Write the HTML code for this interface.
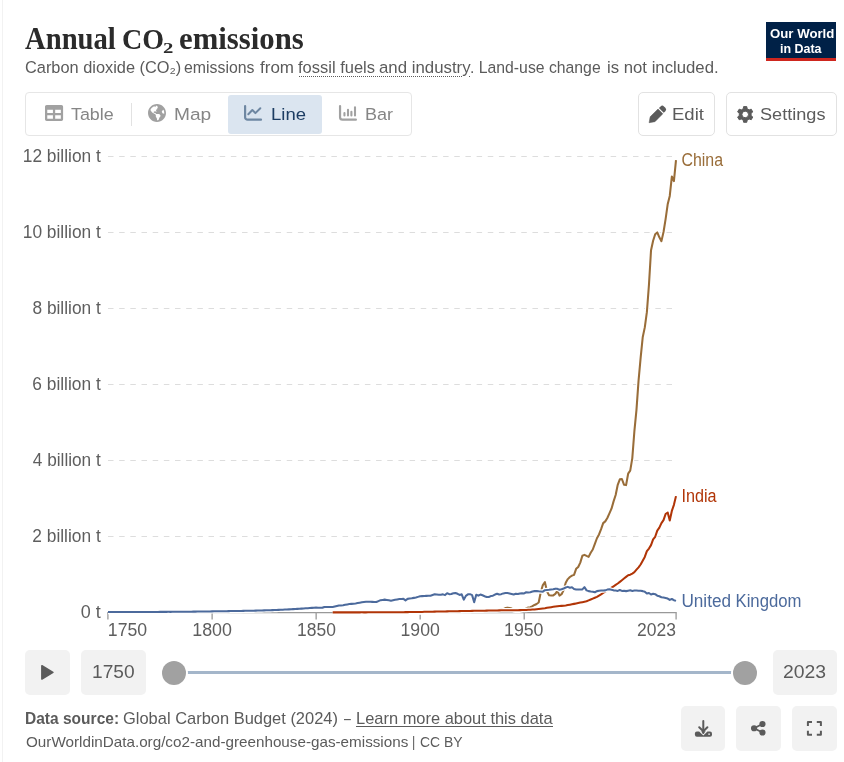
<!DOCTYPE html>
<html lang="en"><head><meta charset="utf-8"><title>Annual CO₂ emissions</title>
<style>
html,body{margin:0;padding:0;background:#fff;}
body{width:844px;height:762px;overflow:hidden;position:relative;font-family:"Liberation Sans",sans-serif;}
.grapher{position:absolute;left:2px;top:0;width:842px;height:762px;border-left:1px solid #f2f2f2;box-sizing:border-box;}
.abs{position:absolute;}
.t{position:absolute;white-space:nowrap;line-height:1;transform-origin:0 0;margin:0;padding:0;font-weight:400;text-decoration:none;}
.logo{position:absolute;left:766px;top:22px;width:70px;height:36px;background:#002147;border-bottom:3px solid #ce261e;}
.tabs{position:absolute;left:25px;top:92px;width:387px;height:44px;box-sizing:border-box;border:1px solid #e6e6e6;border-radius:4px;}
.tab-active{position:absolute;left:228px;top:95px;width:94px;height:39px;background:#dbe5f0;border-radius:3px;}
.divider{position:absolute;left:131px;top:103px;width:1px;height:23px;background:#e2e2e2;}
.btn{position:absolute;box-sizing:border-box;border:1px solid #e2e2e2;border-radius:5px;background:#fff;}
.gbtn{position:absolute;background:#f2f2f2;border-radius:5px;}
svg{position:absolute;left:0;top:0;overflow:visible;}
svg text{font-family:"Liberation Sans",sans-serif;}
.dotted{position:absolute;height:0;border-bottom:1px dotted #5b5b5b;}
.uline{position:absolute;height:1px;background:#5b5b5b;}
</style></head>
<body>
<div class="grapher"></div>
<header>
<h1 style="margin:0"><span class="t" style="left:24.97px;top:24px;font-size:30.5px;font-family:'Liberation Serif', serif;font-weight:700;color:#2b2b2b;transform:scaleX(0.9398);">Annual</span> <span class="t" style="left:121.87px;top:25px;font-size:29px;font-family:'Liberation Serif', serif;font-weight:700;color:#2b2b2b;transform:scaleX(0.9669);">CO</span><sub class="t" style="left:162.6px;top:40.6px;font-size:14.3px;font-family:'Liberation Serif', serif;font-weight:700;color:#2b2b2b;transform:scaleX(1.4468);">2</sub> <span class="t" style="left:178.99px;top:24px;font-size:30.5px;font-family:'Liberation Serif', serif;font-weight:700;color:#2b2b2b;transform:scaleX(1.0082);">emissions</span></h1>
<p class="subtitle" style="margin:0"><span class="t" style="left:24.86px;top:58.6px;font-size:17.1px;color:#5b5b5b;transform:scaleX(0.9567);">Carbon dioxide (CO₂)</span> <span class="t" style="left:183.8px;top:58.6px;font-size:17.1px;color:#5b5b5b;transform:scaleX(0.9273);">emissions</span> <span class="t" style="left:260.15px;top:58.6px;font-size:17.1px;color:#5b5b5b;transform:scaleX(0.9954);">from</span> <span class="t" style="left:298.46px;top:58.6px;font-size:17.1px;color:#5b5b5b;transform:scaleX(0.9648);">fossil fuels</span> <span class="t" style="left:379.26px;top:58.6px;font-size:17.1px;color:#5b5b5b;transform:scaleX(0.9832);">and industry</span><span class="t" style="left:470.42px;top:58.6px;font-size:17.1px;color:#5b5b5b;transform:scaleX(0.9227);">. Land-use change</span> <span class="t" style="left:607.1px;top:58.6px;font-size:17.1px;color:#5b5b5b;transform:scaleX(0.9787);">is not included.</span></p>
<div class="dotted" style="left:299px;top:76px;width:163px"></div><div class="dotted" style="left:469px;top:76px;width:1px"></div>
<div class="logo"></div><span class="t" style="left:769.51px;top:27.4px;font-size:13.4px;font-weight:700;color:#ffffff;transform:scaleX(0.9863);">Our World</span> <span class="t" style="left:780.19px;top:41.65px;font-size:13.4px;font-weight:700;color:#ffffff;transform:scaleX(0.9299);">in Data</span>
</header>
<nav>
<div class="tabs"></div><div class="divider"></div><div class="tab-active"></div>
<span class="t" style="left:71.41px;top:105.5px;font-size:17.4px;color:#858585;transform:scaleX(1.0272);">Table</span> <span class="t" style="left:173.79px;top:105.5px;font-size:17.4px;color:#858585;transform:scaleX(1.0992);">Map</span> <span class="t" style="left:270.54px;top:105.5px;font-size:17.4px;color:#1d3d63;transform:scaleX(1.0634);">Line</span> <span class="t" style="left:364.77px;top:105.5px;font-size:17.4px;color:#858585;transform:scaleX(1.0365);">Bar</span>
<div class="btn" style="left:638px;top:92px;width:77px;height:44px"></div><div class="btn" style="left:726px;top:92px;width:111px;height:44px"></div>
<span class="t" style="left:672.03px;top:105.5px;font-size:17.4px;color:#5b5b5b;transform:scaleX(1.0667);">Edit</span> <span class="t" style="left:760.32px;top:105.5px;font-size:17.4px;color:#5b5b5b;transform:scaleX(1.0423);">Settings</span>
</nav>
<div class="gbtn" style="left:25px;top:650px;width:45px;height:45px"></div><div class="gbtn" style="left:81px;top:650px;width:65px;height:45px"></div><div class="gbtn" style="left:773px;top:650px;width:64px;height:45px"></div>
<span class="t" style="left:92.44px;top:662.8px;font-size:18px;color:#5b5b5b;transform:scaleX(1.0632);">1750</span> <span class="t" style="left:783.36px;top:662.8px;font-size:18px;color:#5b5b5b;transform:scaleX(1.0762);">2023</span>
<div class="gbtn" style="left:681px;top:706px;width:44px;height:45px"></div><div class="gbtn" style="left:736px;top:706px;width:45px;height:45px"></div><div class="gbtn" style="left:792px;top:706px;width:45px;height:45px"></div>
<footer><b class="t" style="left:25.32px;top:709.9px;font-size:16.2px;font-weight:700;color:#5b5b5b;transform:scaleX(0.9594);">Data source:</b> <span class="t" style="left:123.34px;top:709.9px;font-size:16.2px;color:#5b5b5b;transform:scaleX(1.0164);">Global Carbon Budget (2024)</span> <span class="t" style="left:343.6px;top:709.9px;font-size:16.2px;color:#5b5b5b;transform:scaleX(0.7556);">–</span> <a class="t" style="left:355.6px;top:709.9px;font-size:16.2px;color:#5b5b5b;transform:scaleX(1.0160);">Learn more about this data</a> <span class="t" style="left:25.54px;top:734.7px;font-size:14.4px;color:#5b5b5b;transform:scaleX(1.0582);">OurWorldinData.org/co2-and-greenhouse-gas-emissions</span> <span class="t" style="left:412.1px;top:734.7px;font-size:14.4px;color:#5b5b5b;transform:scaleX(0.8800);">|</span> <span class="t" style="left:420.27px;top:734.7px;font-size:14.4px;color:#5b5b5b;transform:scaleX(0.9703);">CC BY</span></footer>
<div class="uline" style="left:356px;top:726px;width:197px"></div>
<svg width="844" height="762" viewBox="0 0 844 762">
<g stroke="#dddddd" stroke-width="1" stroke-dasharray="5.5 5.67" fill="none"><path d="M108,156.5 H676"/><path d="M108,232.5 H676"/><path d="M108,308.5 H676"/><path d="M108,384.5 H676"/><path d="M108,460.5 H676"/><path d="M108,536.5 H676"/></g>
<g stroke="#a0a0a0" stroke-width="1.4" fill="none"><path stroke-width="1.1" stroke="#999" d="M107.3,612.6 H676.7"/><path d="M107.9,612.6 V619.5"/><path d="M212.13,612.6 V619.5"/><path d="M316.16,612.6 V619.5"/><path d="M420.19,612.6 V619.5"/><path d="M524.22,612.6 V619.5"/><path d="M676.1,612.6 V619.5"/></g>
<g><text x="22.75" y="161.8" font-size="17.6" fill="#5e5e5e" textLength="78.05" lengthAdjust="spacingAndGlyphs">12 billion t</text> <text x="22.75" y="237.8" font-size="17.6" fill="#5e5e5e" textLength="78.05" lengthAdjust="spacingAndGlyphs">10 billion t</text> <text x="32.46" y="313.8" font-size="17.6" fill="#5e5e5e" textLength="68.3" lengthAdjust="spacingAndGlyphs">8 billion t</text> <text x="32.34" y="389.8" font-size="17.6" fill="#5e5e5e" textLength="68.42" lengthAdjust="spacingAndGlyphs">6 billion t</text> <text x="32.83" y="465.8" font-size="17.6" fill="#5e5e5e" textLength="67.93" lengthAdjust="spacingAndGlyphs">4 billion t</text> <text x="32.34" y="541.8" font-size="17.6" fill="#5e5e5e" textLength="68.42" lengthAdjust="spacingAndGlyphs">2 billion t</text> <text x="80.76" y="617.8" font-size="17.6" fill="#5e5e5e" textLength="20" lengthAdjust="spacingAndGlyphs">0 t</text></g>
<g><text x="107.85" y="635.8" font-size="18" fill="#5e5e5e" textLength="39.31" lengthAdjust="spacingAndGlyphs">1750</text> <text x="192.24" y="635.8" font-size="18" fill="#5e5e5e" textLength="39.73" lengthAdjust="spacingAndGlyphs">1800</text> <text x="297.07" y="635.8" font-size="18" fill="#5e5e5e" textLength="38.78" lengthAdjust="spacingAndGlyphs">1850</text> <text x="400.55" y="635.8" font-size="18" fill="#5e5e5e" textLength="39.31" lengthAdjust="spacingAndGlyphs">1900</text> <text x="504.05" y="635.8" font-size="18" fill="#5e5e5e" textLength="39.41" lengthAdjust="spacingAndGlyphs">1950</text> <text x="636.95" y="635.8" font-size="18" fill="#5e5e5e" textLength="38.92" lengthAdjust="spacingAndGlyphs">2023</text></g>
<g fill="none" stroke-linejoin="round" stroke-linecap="butt">
<path stroke="#fff" stroke-width="4.449999999999999" d="M418.01,612.4 L420.09,612.4 L422.17,612.4 L424.25,612.4 L426.33,612.33 L428.41,612.27 L430.49,612.21 L432.57,612.1 L434.65,611.98 L436.73,611.87 L438.81,611.75 L440.89,611.64 L442.97,611.58 L445.05,611.52 L447.14,611.46 L449.22,611.4 L451.3,611.34 L453.38,611.31 L455.46,611.28 L457.54,611.24 L459.62,611.21 L461.7,611.18 L463.78,611.12 L465.86,611.06 L467.94,611 L470.02,610.94 L472.1,610.88 L474.18,610.79 L476.26,610.7 L478.34,610.61 L480.42,610.52 L482.51,610.42 L484.59,610.33 L486.67,610.23 L488.75,610.13 L490.83,610.03 L492.91,609.93 L494.99,609.99 L497.07,610.06 L499.15,610.12 L501.23,609.64 L503.31,609.17 L505.39,608.03 L507.47,607.65 L509.55,608.03 L511.63,608.6 L513.71,610.31 L515.79,610.88 L517.88,610.5 L519.96,610.69 L522.04,610.12 L524.12,609.41 L526.2,608.56 L528.28,607.46 L530.36,607.23 L532.44,606.24 L534.52,604.99 L536.6,604 L538.68,602.52 L540.76,592.26 L542.84,585.04 L544.92,582.19 L547,591.42 L549.08,595.3 L551.16,595.41 L553.25,595.41 L555.33,593.93 L557.41,590.93 L559.49,595.57 L561.57,594.2 L563.65,590.09 L565.73,582.76 L567.81,579.11 L569.89,577.02 L571.97,575.62 L574.05,574.86 L576.13,568.85 L578.21,566.95 L580.29,562.62 L582.37,555.7 L584.45,554.83 L586.53,555.89 L588.62,556.84 L590.7,552.74 L592.78,549.51 L594.86,543.92 L596.94,538.26 L599.02,534.42 L601.1,529.14 L603.18,523.14 L605.26,521.35 L607.34,517.97 L609.42,513.37 L611.5,508.66 L613.58,501.4 L615.66,495.02 L617.74,484.8 L619.82,479.29 L621.9,479.02 L623.99,484.72 L626.07,485.1 L628.15,473.7 L630.23,470.66 L632.31,458.12 L634.39,431.14 L636.47,409.86 L638.55,380.6 L640.63,357.8 L642.71,337.28 L644.79,327.4 L646.87,312.2 L648.95,284.84 L651.03,250.26 L653.11,240.76 L655.19,234.3 L657.27,232.4 L659.36,237.34 L661.44,241.14 L663.52,232.02 L665.6,219.1 L667.68,204.28 L669.76,195.92 L671.84,176.54 L673.92,181.1 L676,160.2"/>
<path stroke="#996D39" stroke-width="2.05" d="M418.01,612.4 L420.09,612.4 L422.17,612.4 L424.25,612.4 L426.33,612.33 L428.41,612.27 L430.49,612.21 L432.57,612.1 L434.65,611.98 L436.73,611.87 L438.81,611.75 L440.89,611.64 L442.97,611.58 L445.05,611.52 L447.14,611.46 L449.22,611.4 L451.3,611.34 L453.38,611.31 L455.46,611.28 L457.54,611.24 L459.62,611.21 L461.7,611.18 L463.78,611.12 L465.86,611.06 L467.94,611 L470.02,610.94 L472.1,610.88 L474.18,610.79 L476.26,610.7 L478.34,610.61 L480.42,610.52 L482.51,610.42 L484.59,610.33 L486.67,610.23 L488.75,610.13 L490.83,610.03 L492.91,609.93 L494.99,609.99 L497.07,610.06 L499.15,610.12 L501.23,609.64 L503.31,609.17 L505.39,608.03 L507.47,607.65 L509.55,608.03 L511.63,608.6 L513.71,610.31 L515.79,610.88 L517.88,610.5 L519.96,610.69 L522.04,610.12 L524.12,609.41 L526.2,608.56 L528.28,607.46 L530.36,607.23 L532.44,606.24 L534.52,604.99 L536.6,604 L538.68,602.52 L540.76,592.26 L542.84,585.04 L544.92,582.19 L547,591.42 L549.08,595.3 L551.16,595.41 L553.25,595.41 L555.33,593.93 L557.41,590.93 L559.49,595.57 L561.57,594.2 L563.65,590.09 L565.73,582.76 L567.81,579.11 L569.89,577.02 L571.97,575.62 L574.05,574.86 L576.13,568.85 L578.21,566.95 L580.29,562.62 L582.37,555.7 L584.45,554.83 L586.53,555.89 L588.62,556.84 L590.7,552.74 L592.78,549.51 L594.86,543.92 L596.94,538.26 L599.02,534.42 L601.1,529.14 L603.18,523.14 L605.26,521.35 L607.34,517.97 L609.42,513.37 L611.5,508.66 L613.58,501.4 L615.66,495.02 L617.74,484.8 L619.82,479.29 L621.9,479.02 L623.99,484.72 L626.07,485.1 L628.15,473.7 L630.23,470.66 L632.31,458.12 L634.39,431.14 L636.47,409.86 L638.55,380.6 L640.63,357.8 L642.71,337.28 L644.79,327.4 L646.87,312.2 L648.95,284.84 L651.03,250.26 L653.11,240.76 L655.19,234.3 L657.27,232.4 L659.36,237.34 L661.44,241.14 L663.52,232.02 L665.6,219.1 L667.68,204.28 L669.76,195.92 L671.84,176.54 L673.92,181.1 L676,160.2"/>
<path stroke="#fff" stroke-width="4.449999999999999" d="M332.7,612.38 L334.78,612.38 L336.86,612.38 L338.95,612.38 L341.03,612.38 L343.11,612.38 L345.19,612.37 L347.27,612.37 L349.35,612.37 L351.43,612.37 L353.51,612.37 L355.59,612.36 L357.67,612.36 L359.75,612.36 L361.83,612.35 L363.91,612.35 L365.99,612.35 L368.07,612.34 L370.15,612.34 L372.23,612.34 L374.32,612.33 L376.4,612.33 L378.48,612.32 L380.56,612.31 L382.64,612.3 L384.72,612.3 L386.8,612.29 L388.88,612.28 L390.96,612.27 L393.04,612.26 L395.12,612.25 L397.2,612.24 L399.28,612.23 L401.36,612.2 L403.44,612.17 L405.52,612.14 L407.6,612.12 L409.68,612.09 L411.77,612.06 L413.85,612.03 L415.93,612 L418.01,611.97 L420.09,611.94 L422.17,611.9 L424.25,611.85 L426.33,611.81 L428.41,611.76 L430.49,611.72 L432.57,611.67 L434.65,611.62 L436.73,611.58 L438.81,611.53 L440.89,611.49 L442.97,611.45 L445.05,611.4 L447.14,611.36 L449.22,611.32 L451.3,611.28 L453.38,611.24 L455.46,611.2 L457.54,611.15 L459.62,611.11 L461.7,611.07 L463.78,611.03 L465.86,610.99 L467.94,610.96 L470.02,610.92 L472.1,610.88 L474.18,610.84 L476.26,610.8 L478.34,610.77 L480.42,610.73 L482.51,610.69 L484.59,610.65 L486.67,610.61 L488.75,610.58 L490.83,610.54 L492.91,610.5 L494.99,610.46 L497.07,610.42 L499.15,610.39 L501.23,610.35 L503.31,610.31 L505.39,610.29 L507.47,610.26 L509.55,610.24 L511.63,610.22 L513.71,610.2 L515.79,610.17 L517.88,610.15 L519.96,610.13 L522.04,610.1 L524.12,610.08 L526.2,609.95 L528.28,609.82 L530.36,609.69 L532.44,609.57 L534.52,609.44 L536.6,609.19 L538.68,608.93 L540.76,608.68 L542.84,608.43 L544.92,608.18 L547,607.85 L549.08,607.51 L551.16,607.18 L553.25,606.84 L555.33,606.51 L557.41,606.3 L559.49,606.1 L561.57,605.89 L563.65,605.69 L565.73,605.48 L567.81,605.08 L569.89,604.68 L571.97,604.28 L574.05,603.87 L576.13,603.47 L578.21,603.04 L580.29,602.6 L582.37,602.17 L584.45,601.74 L586.53,601.3 L588.62,600.41 L590.7,599.51 L592.78,598.61 L594.86,597.72 L596.94,596.82 L599.02,595.54 L601.1,594.27 L603.18,592.99 L605.26,591.71 L607.34,590.44 L609.42,589.05 L611.5,587.67 L613.58,586.29 L615.66,584.9 L617.74,583.52 L619.82,581.86 L621.9,580.21 L623.99,578.55 L626.07,576.89 L628.15,575.24 L630.23,574.7 L632.31,573.56 L634.39,572.16 L636.47,569.65 L638.55,567.37 L640.63,564.52 L642.71,560.72 L644.79,556.92 L646.87,551.22 L648.95,548.56 L651.03,545.14 L653.11,539.44 L655.19,536.78 L657.27,530.7 L659.36,527.66 L661.44,523.1 L663.52,520.06 L665.6,513.98 L667.68,512.46 L669.76,520.44 L671.84,510.94 L673.92,504.86 L676,496.12"/>
<path stroke="#B13507" stroke-width="2.05" d="M332.7,612.38 L334.78,612.38 L336.86,612.38 L338.95,612.38 L341.03,612.38 L343.11,612.38 L345.19,612.37 L347.27,612.37 L349.35,612.37 L351.43,612.37 L353.51,612.37 L355.59,612.36 L357.67,612.36 L359.75,612.36 L361.83,612.35 L363.91,612.35 L365.99,612.35 L368.07,612.34 L370.15,612.34 L372.23,612.34 L374.32,612.33 L376.4,612.33 L378.48,612.32 L380.56,612.31 L382.64,612.3 L384.72,612.3 L386.8,612.29 L388.88,612.28 L390.96,612.27 L393.04,612.26 L395.12,612.25 L397.2,612.24 L399.28,612.23 L401.36,612.2 L403.44,612.17 L405.52,612.14 L407.6,612.12 L409.68,612.09 L411.77,612.06 L413.85,612.03 L415.93,612 L418.01,611.97 L420.09,611.94 L422.17,611.9 L424.25,611.85 L426.33,611.81 L428.41,611.76 L430.49,611.72 L432.57,611.67 L434.65,611.62 L436.73,611.58 L438.81,611.53 L440.89,611.49 L442.97,611.45 L445.05,611.4 L447.14,611.36 L449.22,611.32 L451.3,611.28 L453.38,611.24 L455.46,611.2 L457.54,611.15 L459.62,611.11 L461.7,611.07 L463.78,611.03 L465.86,610.99 L467.94,610.96 L470.02,610.92 L472.1,610.88 L474.18,610.84 L476.26,610.8 L478.34,610.77 L480.42,610.73 L482.51,610.69 L484.59,610.65 L486.67,610.61 L488.75,610.58 L490.83,610.54 L492.91,610.5 L494.99,610.46 L497.07,610.42 L499.15,610.39 L501.23,610.35 L503.31,610.31 L505.39,610.29 L507.47,610.26 L509.55,610.24 L511.63,610.22 L513.71,610.2 L515.79,610.17 L517.88,610.15 L519.96,610.13 L522.04,610.1 L524.12,610.08 L526.2,609.95 L528.28,609.82 L530.36,609.69 L532.44,609.57 L534.52,609.44 L536.6,609.19 L538.68,608.93 L540.76,608.68 L542.84,608.43 L544.92,608.18 L547,607.85 L549.08,607.51 L551.16,607.18 L553.25,606.84 L555.33,606.51 L557.41,606.3 L559.49,606.1 L561.57,605.89 L563.65,605.69 L565.73,605.48 L567.81,605.08 L569.89,604.68 L571.97,604.28 L574.05,603.87 L576.13,603.47 L578.21,603.04 L580.29,602.6 L582.37,602.17 L584.45,601.74 L586.53,601.3 L588.62,600.41 L590.7,599.51 L592.78,598.61 L594.86,597.72 L596.94,596.82 L599.02,595.54 L601.1,594.27 L603.18,592.99 L605.26,591.71 L607.34,590.44 L609.42,589.05 L611.5,587.67 L613.58,586.29 L615.66,584.9 L617.74,583.52 L619.82,581.86 L621.9,580.21 L623.99,578.55 L626.07,576.89 L628.15,575.24 L630.23,574.7 L632.31,573.56 L634.39,572.16 L636.47,569.65 L638.55,567.37 L640.63,564.52 L642.71,560.72 L644.79,556.92 L646.87,551.22 L648.95,548.56 L651.03,545.14 L653.11,539.44 L655.19,536.78 L657.27,530.7 L659.36,527.66 L661.44,523.1 L663.52,520.06 L665.6,513.98 L667.68,512.46 L669.76,520.44 L671.84,510.94 L673.92,504.86 L676,496.12"/>
<path stroke="#fff" stroke-width="4.449999999999999" d="M108,612.04 L110.08,612.04 L112.16,612.04 L114.24,612.03 L116.32,612.03 L118.4,612.02 L120.48,612.02 L122.56,612.01 L124.64,612.01 L126.73,612 L128.81,612 L130.89,611.99 L132.97,611.98 L135.05,611.98 L137.13,611.97 L139.21,611.96 L141.29,611.96 L143.37,611.95 L145.45,611.94 L147.53,611.94 L149.61,611.93 L151.69,611.92 L153.77,611.91 L155.85,611.9 L157.93,611.9 L160.01,611.89 L162.1,611.88 L164.18,611.87 L166.26,611.86 L168.34,611.85 L170.42,611.85 L172.5,611.83 L174.58,611.81 L176.66,611.79 L178.74,611.77 L180.82,611.76 L182.9,611.74 L184.98,611.72 L187.06,611.7 L189.14,611.68 L191.22,611.67 L193.3,611.64 L195.38,611.61 L197.47,611.58 L199.55,611.55 L201.63,611.52 L203.71,611.49 L205.79,611.46 L207.87,611.44 L209.95,611.41 L212.03,611.38 L214.11,611.35 L216.19,611.32 L218.27,611.29 L220.35,611.25 L222.43,611.22 L224.51,611.19 L226.59,611.16 L228.67,611.13 L230.75,611.1 L232.84,611.07 L234.92,611.03 L237,610.99 L239.08,610.96 L241.16,610.92 L243.24,610.88 L245.32,610.84 L247.4,610.8 L249.48,610.77 L251.56,610.73 L253.64,610.69 L255.72,610.63 L257.8,610.57 L259.88,610.51 L261.96,610.45 L264.04,610.39 L266.12,610.33 L268.21,610.26 L270.29,610.2 L272.37,610.14 L274.45,610.08 L276.53,609.98 L278.61,609.88 L280.69,609.77 L282.77,609.67 L284.85,609.57 L286.93,609.46 L289.01,609.36 L291.09,609.24 L293.17,609.11 L295.25,608.99 L297.33,608.86 L299.41,608.74 L301.49,608.61 L303.58,608.49 L305.66,608.33 L307.74,608.18 L309.82,608.03 L311.9,607.88 L313.98,607.73 L316.06,607.57 L318.14,607.65 L320.22,607.73 L322.3,607.8 L324.38,606.93 L326.46,607 L328.54,607.08 L330.62,607.08 L332.7,607.08 L334.78,606.57 L336.86,606.07 L338.95,605.56 L341.03,605.41 L343.11,605.26 L345.19,604.86 L347.27,604.47 L349.35,604.08 L351.43,603.86 L353.51,603.65 L355.59,603.43 L357.67,603.05 L359.75,602.67 L361.83,602.29 L363.91,602.03 L365.99,601.76 L368.07,601.8 L370.15,601.84 L372.23,601.89 L374.32,601.94 L376.4,601.99 L378.48,601.08 L380.56,600.16 L382.64,599.9 L384.72,599.63 L386.8,599.97 L388.88,600.32 L390.96,600.7 L393.04,600.28 L395.12,599.86 L397.2,599.44 L399.28,599.02 L401.36,598.95 L403.44,598.87 L405.52,600.39 L407.6,598.87 L409.68,598.57 L411.77,598.26 L413.85,597.88 L415.93,597.5 L418.01,596.88 L420.09,596.25 L422.17,596.12 L424.25,596 L426.33,595.87 L428.41,595.77 L430.49,595.68 L432.57,595.01 L434.65,594.35 L436.73,594.54 L438.81,594.73 L440.89,594.73 L442.97,594.35 L445.05,595.11 L447.14,593.21 L449.22,594.16 L451.3,593.97 L453.38,593.21 L455.46,593.02 L457.54,593.78 L459.62,594.92 L461.7,594.35 L463.78,599.67 L465.86,595.87 L467.94,594.35 L470.02,594.16 L472.1,595.11 L474.18,602.22 L476.26,594.73 L478.34,595.68 L480.42,594.54 L482.51,595.3 L484.59,596.25 L486.67,597.01 L488.75,597.01 L490.83,596.06 L492.91,595.68 L494.99,594.54 L497.07,593.78 L499.15,594.54 L501.23,594.16 L503.31,593.4 L505.39,593.02 L507.47,593.02 L509.55,593.4 L511.63,593.97 L513.71,594.54 L515.79,593.78 L517.88,593.97 L519.96,593.4 L522.04,593.21 L524.12,593.4 L526.2,592.26 L528.28,592.45 L530.36,592.26 L532.44,591.5 L534.52,591.12 L536.6,590.93 L538.68,591.31 L540.76,591.5 L542.84,591.69 L544.92,590.17 L547,589.98 L549.08,589.79 L551.16,589.41 L553.25,589.22 L555.33,588.65 L557.41,588.84 L559.49,589.79 L561.57,589.22 L563.65,588.46 L565.73,587.51 L567.81,586.86 L569.89,587.7 L571.97,587.32 L574.05,589.03 L576.13,589.41 L578.21,589.6 L580.29,589.41 L582.37,589.41 L584.45,587.17 L586.53,590.36 L588.62,591.12 L590.7,591.5 L592.78,591.69 L594.86,592.26 L596.94,591.12 L599.02,590.74 L601.1,590.55 L603.18,590.55 L605.26,590.36 L607.34,589.6 L609.42,589.22 L611.5,589.79 L613.58,590.36 L615.66,590.55 L617.74,590.93 L619.82,589.98 L621.9,590.93 L623.99,590.74 L626.07,591.12 L628.15,590.74 L630.23,590.36 L632.31,590.93 L634.39,590.55 L636.47,590.55 L638.55,590.74 L640.63,590.74 L642.71,591.12 L644.79,591.69 L646.87,593.59 L648.95,593.02 L651.03,594.54 L653.11,593.78 L655.19,594.16 L657.27,595.68 L659.36,596.25 L661.44,597.2 L663.52,597.58 L665.6,597.96 L667.68,598.53 L669.76,599.86 L671.84,599.02 L673.92,600.16 L676,600.85"/>
<path stroke="#4C6A9C" stroke-width="2.05" d="M108,612.04 L110.08,612.04 L112.16,612.04 L114.24,612.03 L116.32,612.03 L118.4,612.02 L120.48,612.02 L122.56,612.01 L124.64,612.01 L126.73,612 L128.81,612 L130.89,611.99 L132.97,611.98 L135.05,611.98 L137.13,611.97 L139.21,611.96 L141.29,611.96 L143.37,611.95 L145.45,611.94 L147.53,611.94 L149.61,611.93 L151.69,611.92 L153.77,611.91 L155.85,611.9 L157.93,611.9 L160.01,611.89 L162.1,611.88 L164.18,611.87 L166.26,611.86 L168.34,611.85 L170.42,611.85 L172.5,611.83 L174.58,611.81 L176.66,611.79 L178.74,611.77 L180.82,611.76 L182.9,611.74 L184.98,611.72 L187.06,611.7 L189.14,611.68 L191.22,611.67 L193.3,611.64 L195.38,611.61 L197.47,611.58 L199.55,611.55 L201.63,611.52 L203.71,611.49 L205.79,611.46 L207.87,611.44 L209.95,611.41 L212.03,611.38 L214.11,611.35 L216.19,611.32 L218.27,611.29 L220.35,611.25 L222.43,611.22 L224.51,611.19 L226.59,611.16 L228.67,611.13 L230.75,611.1 L232.84,611.07 L234.92,611.03 L237,610.99 L239.08,610.96 L241.16,610.92 L243.24,610.88 L245.32,610.84 L247.4,610.8 L249.48,610.77 L251.56,610.73 L253.64,610.69 L255.72,610.63 L257.8,610.57 L259.88,610.51 L261.96,610.45 L264.04,610.39 L266.12,610.33 L268.21,610.26 L270.29,610.2 L272.37,610.14 L274.45,610.08 L276.53,609.98 L278.61,609.88 L280.69,609.77 L282.77,609.67 L284.85,609.57 L286.93,609.46 L289.01,609.36 L291.09,609.24 L293.17,609.11 L295.25,608.99 L297.33,608.86 L299.41,608.74 L301.49,608.61 L303.58,608.49 L305.66,608.33 L307.74,608.18 L309.82,608.03 L311.9,607.88 L313.98,607.73 L316.06,607.57 L318.14,607.65 L320.22,607.73 L322.3,607.8 L324.38,606.93 L326.46,607 L328.54,607.08 L330.62,607.08 L332.7,607.08 L334.78,606.57 L336.86,606.07 L338.95,605.56 L341.03,605.41 L343.11,605.26 L345.19,604.86 L347.27,604.47 L349.35,604.08 L351.43,603.86 L353.51,603.65 L355.59,603.43 L357.67,603.05 L359.75,602.67 L361.83,602.29 L363.91,602.03 L365.99,601.76 L368.07,601.8 L370.15,601.84 L372.23,601.89 L374.32,601.94 L376.4,601.99 L378.48,601.08 L380.56,600.16 L382.64,599.9 L384.72,599.63 L386.8,599.97 L388.88,600.32 L390.96,600.7 L393.04,600.28 L395.12,599.86 L397.2,599.44 L399.28,599.02 L401.36,598.95 L403.44,598.87 L405.52,600.39 L407.6,598.87 L409.68,598.57 L411.77,598.26 L413.85,597.88 L415.93,597.5 L418.01,596.88 L420.09,596.25 L422.17,596.12 L424.25,596 L426.33,595.87 L428.41,595.77 L430.49,595.68 L432.57,595.01 L434.65,594.35 L436.73,594.54 L438.81,594.73 L440.89,594.73 L442.97,594.35 L445.05,595.11 L447.14,593.21 L449.22,594.16 L451.3,593.97 L453.38,593.21 L455.46,593.02 L457.54,593.78 L459.62,594.92 L461.7,594.35 L463.78,599.67 L465.86,595.87 L467.94,594.35 L470.02,594.16 L472.1,595.11 L474.18,602.22 L476.26,594.73 L478.34,595.68 L480.42,594.54 L482.51,595.3 L484.59,596.25 L486.67,597.01 L488.75,597.01 L490.83,596.06 L492.91,595.68 L494.99,594.54 L497.07,593.78 L499.15,594.54 L501.23,594.16 L503.31,593.4 L505.39,593.02 L507.47,593.02 L509.55,593.4 L511.63,593.97 L513.71,594.54 L515.79,593.78 L517.88,593.97 L519.96,593.4 L522.04,593.21 L524.12,593.4 L526.2,592.26 L528.28,592.45 L530.36,592.26 L532.44,591.5 L534.52,591.12 L536.6,590.93 L538.68,591.31 L540.76,591.5 L542.84,591.69 L544.92,590.17 L547,589.98 L549.08,589.79 L551.16,589.41 L553.25,589.22 L555.33,588.65 L557.41,588.84 L559.49,589.79 L561.57,589.22 L563.65,588.46 L565.73,587.51 L567.81,586.86 L569.89,587.7 L571.97,587.32 L574.05,589.03 L576.13,589.41 L578.21,589.6 L580.29,589.41 L582.37,589.41 L584.45,587.17 L586.53,590.36 L588.62,591.12 L590.7,591.5 L592.78,591.69 L594.86,592.26 L596.94,591.12 L599.02,590.74 L601.1,590.55 L603.18,590.55 L605.26,590.36 L607.34,589.6 L609.42,589.22 L611.5,589.79 L613.58,590.36 L615.66,590.55 L617.74,590.93 L619.82,589.98 L621.9,590.93 L623.99,590.74 L626.07,591.12 L628.15,590.74 L630.23,590.36 L632.31,590.93 L634.39,590.55 L636.47,590.55 L638.55,590.74 L640.63,590.74 L642.71,591.12 L644.79,591.69 L646.87,593.59 L648.95,593.02 L651.03,594.54 L653.11,593.78 L655.19,594.16 L657.27,595.68 L659.36,596.25 L661.44,597.2 L663.52,597.58 L665.6,597.96 L667.68,598.53 L669.76,599.86 L671.84,599.02 L673.92,600.16 L676,600.85"/>
</g>
<g><text x="681.45" y="165.7" font-size="17.5" fill="#996D39" textLength="41.57" lengthAdjust="spacingAndGlyphs">China</text> <text x="681.5" y="501.7" font-size="17.5" fill="#B13507" textLength="35.11" lengthAdjust="spacingAndGlyphs">India</text> <text x="681.4" y="606.7" font-size="17.5" fill="#4C6A9C" textLength="49.67" lengthAdjust="spacingAndGlyphs">United</text> <text x="735.49" y="606.7" font-size="17.5" fill="#4C6A9C" textLength="65.95" lengthAdjust="spacingAndGlyphs">Kingdom</text></g>
<path d="M186,672.5 H733" stroke="#a4b6ca" stroke-width="3" fill="none"/><circle cx="174" cy="673" r="14" fill="#fff"/><circle cx="174" cy="673" r="12" fill="#a1a1a1"/><circle cx="745" cy="673" r="14" fill="#fff"/><circle cx="745" cy="673" r="12" fill="#a1a1a1"/>
<path fill="#a1a1a1" transform="translate(45,103.97) scale(0.03535)" d="M464 32H48C21.49 32 0 53.49 0 80v352c0 26.51 21.49 48 48 48h416c26.51 0 48-21.49 48-48V80c0-26.51-21.49-48-48-48zM224 416H64v-96h160v96zm0-160H64v-96h160v96zm224 160H288v-96h160v96zm0-160H288v-96h160v96z"/>
<path fill="#a1a1a1" transform="translate(148,103.61) scale(0.03629)" d="M248 8C111.03 8 0 119.03 0 256s111.03 248 248 248 248-111.03 248-248S384.97 8 248 8zm82.29 357.6c-3.9 3.88-7.99 7.95-11.31 11.28-2.99 3-5.1 6.7-6.17 10.71-1.51 5.66-2.73 11.38-4.77 16.87l-17.39 46.85c-13.76 3-28 4.69-42.65 4.69v-27.38c1.69-12.62-7.64-36.26-22.63-51.25-6-6-9.37-14.14-9.37-22.63v-32.01c0-11.64-6.27-22.34-16.46-27.97-14.37-7.95-34.81-19.06-48.81-26.11-11.48-5.78-22.1-13.14-31.65-21.75l-.8-.72a114.792 114.792 0 0 1-18.06-20.74c-9.38-13.77-24.66-36.42-34.59-51.14 20.47-45.5 57.36-82.04 103.2-101.89l24.01 12.01C203.48 89.74 216 82.01 216 70.11v-11.3c7.99-1.29 16.12-2.11 24.39-2.42l28.3 28.3c6.25 6.25 6.25 16.38 0 22.63L264 112l-10.34 10.34c-3.12 3.12-3.12 8.19 0 11.31l4.69 4.69c3.12 3.12 3.12 8.19 0 11.31l-8 8a8.008 8.008 0 0 1-5.66 2.34h-8.99c-2.08 0-4.08.81-5.58 2.27l-9.92 9.65a8.008 8.008 0 0 0-1.58 9.31l15.59 31.19c2.66 5.32-1.21 11.58-7.15 11.58h-5.64c-1.93 0-3.79-.7-5.24-1.96l-9.28-8.06a16.017 16.017 0 0 0-15.55-3.1l-31.17 10.39a11.95 11.95 0 0 0-8.17 11.34c0 4.53 2.56 8.66 6.61 10.69l11.08 5.54c9.41 4.71 19.79 7.16 30.31 7.16s22.59 27.29 32 32h66.75c8.49 0 16.62 3.37 22.63 9.37l13.69 13.69a30.503 30.503 0 0 1 8.93 21.57 46.536 46.536 0 0 1-13.72 32.98zM417 274.25c-5.79-1.45-10.84-5-14.15-9.97l-17.98-26.97a23.97 23.97 0 0 1 0-26.62l19.59-29.38c2.32-3.47 5.5-6.29 9.24-8.15l12.98-6.49C440.2 193.59 448 223.87 448 256c0 8.67-.74 17.16-1.82 25.54L417 274.25z"/>
<g fill="none" stroke="#6e87a2" stroke-linecap="round" stroke-linejoin="round"><path stroke-width="2.2" d="M245.1,106 V117.2 a2.5,2.5 0 0 0 2.5,2.5 H261"/><path stroke-width="2" d="M248.3,114.2 L252.35,110 L255.4,113.1 L260.3,108.2"/></g>
<g fill="none" stroke="#a1a1a1" stroke-linecap="round" stroke-linejoin="round"><path stroke-width="2.2" d="M340.05,106 V117.2 a2.5,2.5 0 0 0 2.5,2.5 H355.9"/><path stroke-width="2.1" d="M344.45,113 V115.4 M348,109.7 V115.4 M351.4,111.8 V115.4 M355,107.3 V115.4"/></g>
<g transform="translate(648.9,122.9) rotate(-45)" fill="#5b5b5b"><path d="M0.3,0 L5.2,-3.4 H16.3 V3.4 H5.2 Z" stroke="#5b5b5b" stroke-width="0.5" stroke-linejoin="round"/><path d="M17.6,-3.4 H19.9 a2.4,2.4 0 0 1 2.4,2.4 V1 a2.4,2.4 0 0 1 -2.4,2.4 H17.6 Z"/></g>
<path fill="#5b5b5b" fill-rule="evenodd" stroke="#5b5b5b" stroke-width="1" stroke-linejoin="round" d="M747.14,108.77 L746.79,106.61 L743.61,106.61 L743.26,108.77 L741.26,109.93 L739.2,109.15 L737.62,111.91 L739.31,113.3 L739.31,115.6 L737.62,116.99 L739.2,119.75 L741.26,118.97 L743.26,120.13 L743.61,122.29 L746.79,122.29 L747.14,120.13 L749.14,118.97 L751.2,119.75 L752.78,116.99 L751.09,115.6 L751.09,113.3 L752.78,111.91 L751.2,109.15 L749.14,109.93Z M741.9,114.45 a3.3,3.3 0 1,0 6.6,0 a3.3,3.3 0 1,0 -6.6,0Z"/>
<path fill="#5b5b5b" stroke="#5b5b5b" stroke-width="1.6" stroke-linejoin="round" d="M41.9,665.8 L52.9,672.4 L41.9,679 Z"/>
<g fill="none" stroke="#5b5b5b" stroke-width="2" stroke-linecap="round" stroke-linejoin="round"><path d="M703.3,721 V731"/><path d="M699.2,727.2 L703.3,731.3 L707.4,727.2"/></g><rect x="694.9" y="731.4" width="17.1" height="5.4" rx="2" fill="#5b5b5b"/><path d="M699.6,731 L703.3,734.6 L707,731" fill="none" stroke="#f2f2f2" stroke-width="1.3"/><path d="M703.3,730 V733" stroke="#5b5b5b" stroke-width="2" stroke-linecap="round"/><rect x="708.3" y="733.4" width="1.6" height="1.6" fill="#d8d8d8"/>
<g fill="#5b5b5b" stroke="#5b5b5b" stroke-width="1.8"><path d="M762.46,724 L754.07,728.26 L762.46,732.5" fill="none"/><circle cx="754.07" cy="728.26" r="2.2"/><circle cx="762.46" cy="724" r="2.2"/><circle cx="762.46" cy="732.5" r="2.2"/></g>
<g fill="none" stroke="#5b5b5b" stroke-width="2" stroke-linejoin="round" stroke-linecap="butt"><path d="M807.9,726 V722.05 H812"/><path d="M816.8,722.05 H820.9 V726"/><path d="M807.9,730.8 V734.75 H812"/><path d="M816.8,734.75 H820.9 V730.8"/></g>
</svg>
</body></html>
